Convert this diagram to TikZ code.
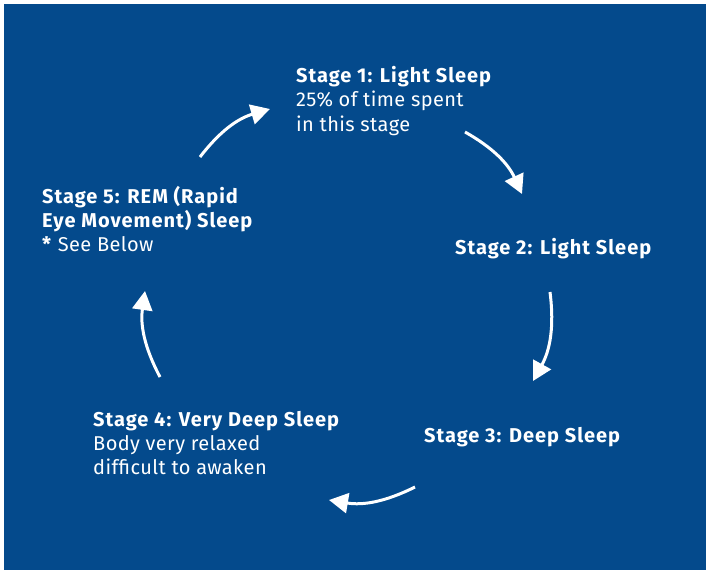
\documentclass[tikz,border=0pt]{standalone}
\usepackage{fontspec}
\setmainfont{Fira Sans}[LetterSpace=2,BoldFeatures={LetterSpace=5}]
\usetikzlibrary{arrows.meta}
\definecolor{bgblue}{RGB}{4,74,140}
\tikzset{
  lbl/.style={text=white, anchor=north west, inner sep=0pt, align=left,
    font=\fontsize{20}{24.3}\selectfont},
  cyc/.style={draw=white, line width=3pt,
    -{Triangle[length=19pt,width=20pt]}, bend left=18}
}
\begin{document}
\begin{tikzpicture}[x=1pt,y=-1pt]
\useasboundingbox (0,0) rectangle (706,570);
\fill[bgblue] (4,4) rectangle (706,570);
\node[lbl] (s1) at (296,66) {\textbf{Stage 1: Light Sleep}\\25\% of time spent\\in this stage};
\node[lbl] (s2) at (455,238) {\textbf{Stage 2: Light Sleep}};
\node[lbl] (s3) at (424,427) {\textbf{Stage 3: Deep Sleep}};
\node[lbl] (s4) at (93,411) {\textbf{Stage 4: Very Deep Sleep}\\Body very relaxed\\difficult to awaken};
\node[lbl] (s5) at (42,186) {\textbf{Stage 5: REM (Rapid}\\\textbf{Eye Movement) Sleep}\\\textbf{*} See Below};
\coordinate (a1s) at (200,157); \coordinate (a1e) at (270,109);
\coordinate (a2s) at (465,132); \coordinate (a2e) at (522,194);
\coordinate (a3s) at (550,292); \coordinate (a3e) at (533,381);
\coordinate (a4s) at (415,487); \coordinate (a4e) at (329,500);
\coordinate (a5s) at (160,377); \coordinate (a5e) at (145,291);
\draw[cyc] (a1s) to (a1e);
\draw[cyc] (a2s) to (a2e);
\draw[cyc] (a3s) to (a3e);
\draw[cyc] (a4s) to (a4e);
\draw[cyc] (a5s) to (a5e);
\end{tikzpicture}
\end{document}
